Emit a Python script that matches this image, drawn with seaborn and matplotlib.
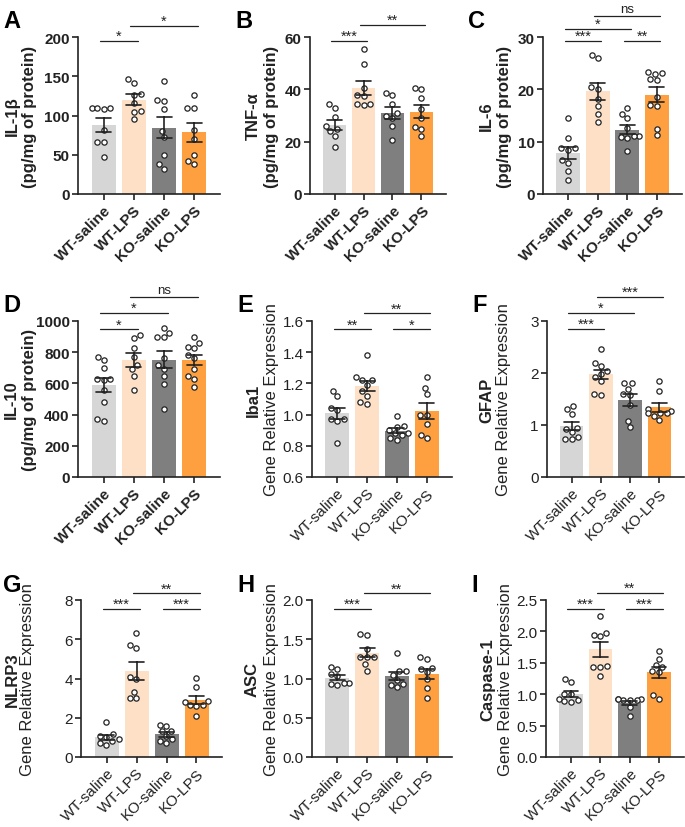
import matplotlib
matplotlib.use('Agg')
import matplotlib.pyplot as plt
import seaborn as sns
import pandas as pd

# groups and colours
groups = ['WT-saline', 'WT-LPS', 'KO-saline', 'KO-LPS']
colors = ['#d6d6d6', '#fde0c5', '#7f7f7f', '#ffa040']

# individual values per group
il1b = [[110, 108, 110, 110, 82, 66, 66, 47],
        [146, 142, 128, 126, 116, 106, 95, 104],
        [144, 118, 120, 108, 80, 72, 50, 38, 32],
        [126, 110, 110, 82, 70, 50, 38, 42]]
tnfa = [[34.5, 33, 29.5, 26, 25, 24, 22, 18],
        [55.5, 49.5, 40.5, 38, 37.5, 34.5, 34, 34.5],
        [38, 38.5, 34.5, 31, 30, 29, 26, 20.5],
        [40, 40.5, 36.5, 32.5, 29, 25.5, 25, 22]]
il6 = [[14.6, 10.7, 8.7, 8.5, 8.8, 6.5, 5.9, 4.4, 2.7],
       [25.9, 26.5, 20.4, 20.1, 18.2, 16.9, 15.3, 13.8],
       [16.5, 15.3, 14.5, 12.6, 11.1, 11.0, 10.9, 10.7, 8.2],
       [23.2, 23.3, 23.0, 22.0, 21.8, 18.5, 16.9, 17.0, 12.5, 11.2]]
il10 = [[770, 750, 700, 630, 625, 630, 555, 480, 360, 375],
        [890, 910, 830, 770, 715, 690, 650, 555],
        [955, 925, 900, 895, 760, 715, 695, 650, 595, 435],
        [900, 860, 835, 828, 780, 760, 690, 645, 630, 580]]
iba1 = [[1.15, 1.12, 1.03, 1.04, 0.97, 0.96, 0.97, 0.82],
        [1.38, 1.24, 1.22, 1.22, 1.19, 1.15, 1.12, 1.08, 1.07],
        [0.99, 0.93, 0.92, 0.90, 0.88, 0.87, 0.88, 0.84, 0.85],
        [1.24, 1.17, 1.13, 1.00, 1.00, 0.94, 0.87, 0.85]]
gfap = [[1.36, 1.30, 1.21, 0.95, 0.92, 0.86, 0.74, 0.73, 0.76],
        [2.46, 2.19, 2.14, 2.04, 1.98, 1.92, 1.85, 1.60, 1.58],
        [1.80, 1.80, 1.70, 1.60, 1.58, 1.38, 1.08, 0.96],
        [1.84, 1.65, 1.30, 1.26, 1.24, 1.24, 1.18, 1.10, 1.23]]
nlrp3 = [[1.78, 1.15, 1.05, 1.0, 0.9, 0.8, 0.7, 0.6],
         [6.3, 5.7, 5.55, 4.1, 3.95, 3.3, 3.0, 3.0],
         [1.65, 1.58, 1.33, 1.30, 1.07, 0.9, 0.8, 0.7],
         [4.05, 3.57, 2.85, 2.80, 2.65, 2.65, 2.60, 2.10]]
asc = [[1.15, 1.12, 1.06, 1.03, 0.94, 0.93, 0.94, 0.92],
       [1.57, 1.56, 1.38, 1.28, 1.27, 1.28, 1.18, 1.10],
       [1.32, 1.10, 1.09, 0.98, 0.93, 0.92, 0.89, 1.05],
       [1.27, 1.25, 1.13, 1.12, 1.08, 0.99, 0.88, 0.75]]
casp1 = [[1.25, 1.20, 1.0, 1.0, 0.93, 0.90, 0.89, 0.88],
         [2.25, 1.97, 1.95, 1.92, 1.45, 1.44, 1.43, 1.29],
         [0.92, 0.92, 0.91, 0.92, 0.90, 0.91, 0.79, 0.65],
         [1.68, 1.56, 1.47, 1.44, 1.37, 1.35, 0.98, 0.93]]

# significance brackets: (group i, group j, height, label)
sig_a = [(0, 1, 195, '*'), (1, 3, 214, '*')]
sig_b = [(0, 1, 58.5, '***'), (1, 3, 64.6, '**')]
sig_c = [(0, 1, 29.2, '***'), (2, 3, 29.2, '**'), (0, 2, 31.6, '*'), (1, 3, 34.0, 'ns')]
sig_d = [(0, 1, 947, '*'), (0, 2, 1053, '*'), (1, 3, 1153, 'ns')]
sig_e = [(0, 1, 1.547, '**'), (2, 3, 1.547, '*'), (1, 3, 1.649, '**')]
sig_f = [(0, 1, 2.85, '***'), (0, 2, 3.16, '*'), (1, 3, 3.47, '***')]
sig_g = [(0, 1, 7.54, '***'), (2, 3, 7.54, '***'), (1, 3, 8.34, '**')]
sig_h = [(0, 1, 1.885, '***'), (1, 3, 2.085, '**')]
sig_i = [(0, 1, 2.36, '***'), (2, 3, 2.36, '***'), (1, 3, 2.61, '**')]

GENE = 'Gene Relative Expression'
PROT = '(pg/mg of protein)'

# letter, values, label lines, ylim, yticks, tick format, brackets,
# axes box in pixels (left, top, right, bottom), label x offsets (axes frac)
panels = [
    ('A', il1b, 'IL-1β', PROT, (0, 200), [0, 50, 100, 150, 200], '{:.0f}', sig_a,
     (78, 38, 220, 195), (-0.46, -0.34), True),
    ('B', tnfa, 'TNF-α', PROT, (0, 60), [0, 20, 40, 60], '{:.0f}', sig_b,
     (310, 38, 446, 195), (-0.42, -0.28), True),
    ('C', il6, 'IL-6', PROT, (0, 30), [0, 10, 20, 30], '{:.0f}', sig_c,
     (543, 38, 682, 195), (-0.41, -0.28), True),
    ('D', il10, 'IL-10', PROT, (0, 1000), [0, 200, 400, 600, 800, 1000], '{:.0f}', sig_d,
     (78, 322, 220, 478), (-0.47, -0.34), True),
    ('E', iba1, 'Iba1', GENE, (0.6, 1.6), [0.6, 0.8, 1.0, 1.2, 1.4, 1.6], '{:.1f}', sig_e,
     (312, 322, 452, 478), (-0.42, -0.29), False),
    ('F', gfap, 'GFAP', GENE, (0, 3), [0, 1, 2, 3], '{:.0f}', sig_f,
     (547, 322, 684, 478), (-0.44, -0.32), False),
    ('G', nlrp3, 'NLRP3', GENE, (0, 8), [0, 2, 4, 6, 8], '{:.0f}', sig_g,
     (81, 601, 222, 758), (-0.49, -0.38), False),
    ('H', asc, 'ASC', GENE, (0, 2.0), [0, 0.5, 1.0, 1.5, 2.0], '{:.1f}', sig_h,
     (312, 601, 452, 758), (-0.43, -0.29), False),
    ('I', casp1, 'Caspase-1', GENE, (0, 2.5), [0, 0.5, 1.0, 1.5, 2.0, 2.5], '{:.1f}', sig_i,
     (546, 601, 684, 758), (-0.42, -0.29), False),
]

sns.set_style('ticks')
plt.rcParams['font.family'] = ['Liberation Sans', 'DejaVu Sans']

W, H = 685, 828
fig = plt.figure(figsize=(W / 100, H / 100), dpi=100)
ink = '#222222'

for (letter, vals, lab1, lab2, ylim, yticks, fmt, sigs,
     box, labx, bold) in panels:
    l, t, r, b = box
    ax = fig.add_axes([l / W, 1 - b / H, (r - l) / W, (b - t) / H])

    df = pd.DataFrame({
        'group': [g for g, v in zip(groups, vals) for _ in v],
        'value': [x for v in vals for x in v],
    })

    sns.barplot(data=df, x='group', y='value', hue='group', order=groups,
                hue_order=groups, palette=colors, saturation=1, legend=False,
                width=0.8, errorbar='se', capsize=0.5, linewidth=0,
                err_kws={'color': ink, 'linewidth': 1.2}, ax=ax)
    sns.swarmplot(data=df, x='group', y='value', order=groups, size=3.8,
                  color='white', edgecolor=ink, linewidth=0.9, zorder=3, ax=ax)
    for line in ax.lines:
        line.set_zorder(4)

    ax.set_xlim(-0.85, 3.85)
    ax.set_ylim(*ylim)
    ax.set_yticks(yticks)
    weight = 'bold' if bold else 'normal'
    ax.set_yticklabels([fmt.format(v) for v in yticks], fontsize=11, fontweight=weight, color=ink)
    ax.set_xticks(range(4))
    ax.set_xticklabels(groups, rotation=45, ha='right', rotation_mode='anchor',
                       fontsize=11, fontweight=weight, color=ink)
    ax.set_xlabel('')
    ax.set_ylabel('')
    sns.despine(ax=ax)
    for side in ['left', 'bottom']:
        ax.spines[side].set_linewidth(1.2)
        ax.spines[side].set_color(ink)
    ax.tick_params(axis='both', width=1.2, length=4, color=ink, pad=2)

    # two-line y label
    ax.text(labx[0], 0.5, lab1, transform=ax.transAxes, rotation=90,
            ha='center', va='center', fontsize=12, fontweight='bold', color=ink)
    ax.text(labx[1], 0.5, lab2, transform=ax.transAxes, rotation=90,
            ha='center', va='center', fontsize=12, fontweight=weight, color=ink)

    # significance brackets
    for i, j, y, s in sigs:
        ax.plot([i - 0.12, j + 0.12], [y, y], color=ink, lw=0.9, clip_on=False)
        ax.annotate(s, xy=((i + j) / 2, y), xytext=(0, 0.5 if s == 'ns' else -1.5),
                    textcoords='offset points', ha='center', va='bottom',
                    fontsize=9.5 if s == 'ns' else 10.5, color=ink, annotation_clip=False)

    # panel letter
    fig.text((l - 75 + (3 if l < 100 else 0)) / W if l > 100 else 3 / W,
             1 - (t - 16) / H, letter, fontsize=17, fontweight='bold',
             ha='left', va='center', color='black')

fig.savefig('out.png', dpi=100)
